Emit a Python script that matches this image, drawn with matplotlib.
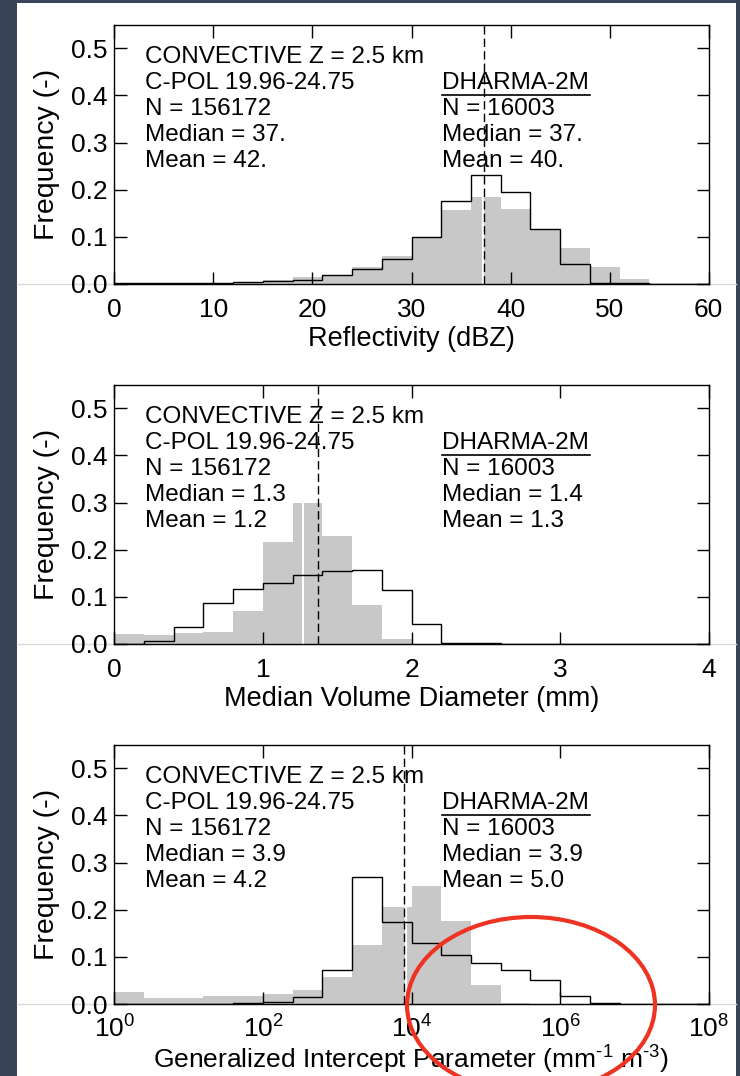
import numpy as np
import matplotlib
matplotlib.use("Agg")
import matplotlib.pyplot as plt
from matplotlib.patches import Rectangle, Ellipse
from matplotlib.lines import Line2D

plt.rcParams['font.family'] = ['Liberation Sans', 'DejaVu Sans']
plt.rcParams['mathtext.fontset'] = 'custom'
plt.rcParams['mathtext.rm'] = 'Liberation Sans'

#1 Dane
# Reflektywnosc, przedzialy co 3 dBZ
dbz_edges = np.arange(0, 61, 3)
dbz_cpol = [0.001, 0.001, 0.001, 0.002, 0.0035, 0.0085, 0.014, 0.019, 0.035, 0.060,
            0.100, 0.157, 0.185, 0.160, 0.117, 0.076, 0.037, 0.010, 0.0, 0.0]
dbz_dharma = [0.002, 0.001, 0.001, 0.002, 0.005, 0.006, 0.009, 0.018, 0.032, 0.052,
              0.100, 0.177, 0.232, 0.196, 0.116, 0.042, 0.003, 0.001, 0.0, 0.0]

# Median volume diameter, przedzialy co 0.2 mm
d0_edges = np.linspace(0, 4, 21)
d0_cpol = [0.022, 0.020, 0.023, 0.026, 0.069, 0.217, 0.298, 0.228, 0.083, 0.011,
           0.0, 0.0, 0.0, 0.0, 0.0, 0.0, 0.0, 0.0, 0.0, 0.0]
d0_dharma = [0.0005, 0.007, 0.036, 0.086, 0.117, 0.130, 0.146, 0.154, 0.157, 0.115,
             0.042, 0.003, 0.0015, 0.0, 0.0, 0.0, 0.0, 0.0, 0.0, 0.0]

# Generalized intercept parameter, przedzialy co 0.4 dekady
nw_log_edges = np.linspace(0, 8, 21)
nw_cpol = [0.026, 0.013, 0.013, 0.016, 0.016, 0.022, 0.030, 0.057, 0.126, 0.206,
           0.251, 0.177, 0.041, 0.002, 0.0, 0.0, 0.0, 0.0, 0.0, 0.0]
nw_dharma = [0.0, 0.0, 0.0, 0.0005, 0.0015, 0.004, 0.015, 0.072, 0.270, 0.175,
             0.129, 0.104, 0.087, 0.073, 0.050, 0.018, 0.002, 0.0, 0.0, 0.0]

# Mediany (biala linia = C-POL, przerywana = DHARMA)
med_cpol = [37.2, 1.27, 10**3.93]
med_dharma = [37.3, 1.37, 10**3.90]

header = ["CONVECTIVE Z = 2.5 km", "C-POL 19.96-24.75", "N = 156172"]
cpol_stats = [["Median = 37.", "Mean = 42."],
              ["Median = 1.3", "Mean = 1.2"],
              ["Median = 3.9", "Mean = 4.2"]]
dharma_stats = [["N = 16003", "Median = 37.", "Mean = 40."],
                ["N = 16003", "Median = 1.4", "Mean = 1.3"],
                ["N = 16003", "Median = 3.9", "Mean = 5.0"]]
xlabels = ["Reflectivity (dBZ)", "Median Volume Diameter (mm)",
           r"Generalized Intercept Parameter (mm$^{\text{-1}}$ m$^{\text{-3}}$)"]

#2 Figura
fig = plt.figure(figsize=(7.4, 10.76), dpi=100)
fig.patch.set_facecolor('#39445a')
fig.patches.append(Rectangle((17/740, 0), 719/740, 1073/1076, transform=fig.transFigure,
                             facecolor='white', edgecolor='none', zorder=-10))

ax_left, ax_w, ax_h = 0.1545, 0.8032, 0.241
bottoms = [0.7361, 0.4015, 0.0669]

edges_all = [dbz_edges, d0_edges, 10**nw_log_edges]
cpol_all = [dbz_cpol, d0_cpol, nw_cpol]
dharma_all = [dbz_dharma, d0_dharma, nw_dharma]

for i in range(3):
    # jasna linia pod osia (jak na zrzucie)
    fig.add_artist(Line2D([17/740, 736/740], [bottoms[i], bottoms[i]],
                          transform=fig.transFigure, color='#d8d8d8', lw=1, zorder=-5))

    ax = fig.add_axes([ax_left, bottoms[i], ax_w, ax_h])
    ax.patch.set_alpha(0)
    edges = edges_all[i]

    ax.bar(edges[:-1], cpol_all[i], width=np.diff(edges), align='edge',
           color='#c8c8c8', linewidth=0, zorder=1)
    ax.axvline(med_cpol[i], color='white', lw=1.5, zorder=2)
    ax.stairs(dharma_all[i], edges, color='black', lw=1, zorder=3)
    ax.axvline(med_dharma[i], color='black', lw=1, linestyle=(0, (6, 3)), zorder=4)

    if i == 2:
        ax.set_xscale('log')
        ax.set_xlim(1, 1e8)
        ax.set_xticks([1, 1e2, 1e4, 1e6, 1e8])
        ax.set_xticklabels([r'$\mathregular{10^{%d}}$' % k for k in [0, 2, 4, 6, 8]])
        ax.minorticks_off()
    elif i == 0:
        ax.set_xlim(0, 60)
        ax.set_xticks(np.arange(0, 61, 10))
    else:
        ax.set_xlim(0, 4)
        ax.set_xticks(np.arange(0, 5, 1))

    ax.set_ylim(0, 0.55)
    ax.set_yticks(np.arange(0, 0.51, 0.1))
    ax.set_yticklabels(['%.1f' % v for v in np.arange(0, 0.51, 0.1)])
    ax.tick_params(direction='in', length=9, width=1, top=True, right=True,
                   labelsize=19)
    ax.tick_params(axis='x', pad=8 if i == 2 else 10)
    ax.tick_params(axis='y', pad=5)
    for s in ax.spines.values():
        s.set_linewidth(1)

    ax.set_xlabel(xlabels[i], fontsize=19 if i == 2 else 19.5,
                  labelpad=0 if i == 2 else 3)
    ax.set_ylabel("Frequency (-)", fontsize=20.5, labelpad=8)

    # Opisy
    lines = header + cpol_stats[i]
    for k, t in enumerate(lines):
        ax.text(0.052, 0.875 - k*0.1003, t, transform=ax.transAxes,
                fontsize=17.5, va='center', ha='left')
    ax.text(0.551, 0.875 - 0.1003, "DHARMA-2M", transform=ax.transAxes,
            fontsize=17.5, va='center', ha='left')
    ax.plot([0.551, 0.800], [0.729, 0.729], transform=ax.transAxes,
            color='black', lw=1.2)
    for k, t in enumerate(dharma_stats[i]):
        ax.text(0.551, 0.875 - (k + 2)*0.1003, t, transform=ax.transAxes,
                fontsize=17.5, va='center', ha='left')

# czerwona elipsa
fig.add_artist(Ellipse((531/740, 1 - 1005/1076), 248/740, 176/1076,
                       transform=fig.transFigure, fill=False,
                       edgecolor='#ee3322', lw=3, zorder=10))

plt.savefig('out.png', dpi=100, facecolor=fig.get_facecolor())
